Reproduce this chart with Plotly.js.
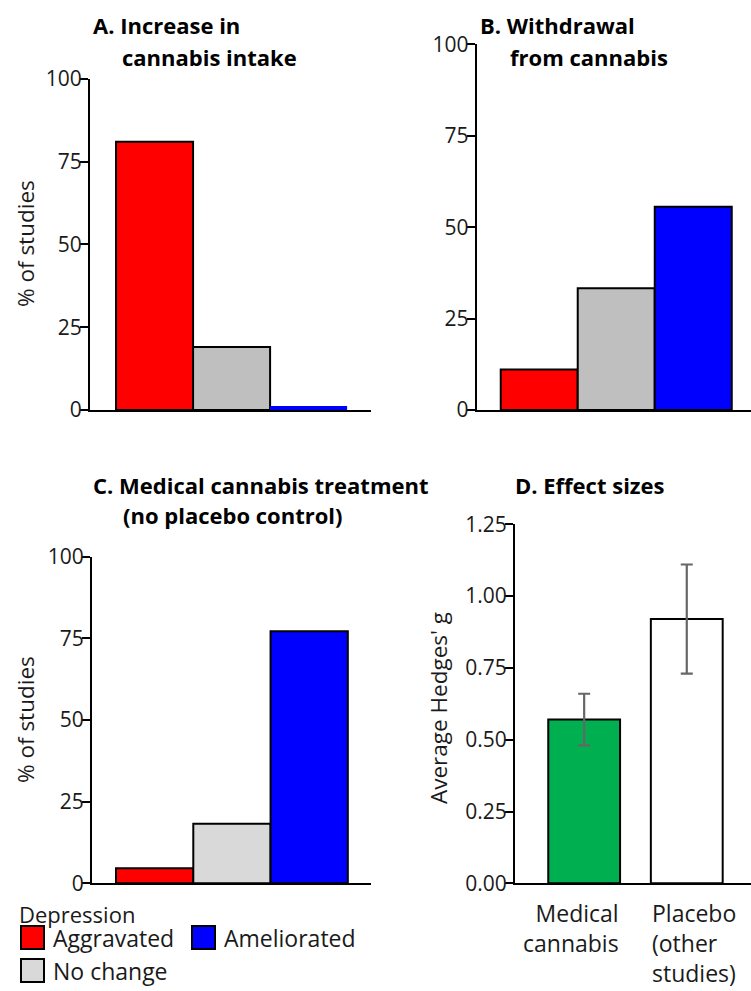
<!DOCTYPE html>
<html>
<head>
<meta charset="utf-8">
<script src="https://cdn.plot.ly/plotly-3.0.1.min.js"></script>
<style>html,body{margin:0;padding:0;background:#fff;}#chart{width:751px;height:991px;}</style>
</head>
<body>
<div id="chart"></div>
<script>
// ---- data ----
var outcomeCategories = ["Aggravated", "No change", "Ameliorated"];
var intakeValues = [81, 19, 1.2];
var withdrawalValues = [11.1, 33.3, 55.6];
var medicalValues = [4.6, 18.2, 77.2];
var effectCategories = ["Medical<br>cannabis", "Placebo<br>(other<br>studies)"];
var effectValues = [0.57, 0.92];
var effectErrPlus = [0.09, 0.19];
var effectErrMinus = [0.09, 0.19];
var pctTicks = [0, 25, 50, 75, 100];
var effTicks = [0, 0.25, 0.5, 0.75, 1.0, 1.25];
var panelTitles = [
  ["A. Increase in", "cannabis intake"],
  ["B. Withdrawal", "from cannabis"],
  ["C. Medical cannabis treatment", "(no placebo control)"],
  ["D. Effect sizes"]
];
var legendTitle = "Depression";
var legendLabels = ["Aggravated", "Ameliorated", "No change"];

// ---- styling ----
var W = 751, H = 991;
var FONT = "Open Sans, sans-serif";
var TXT = "#1a1a1a";
function px(x){ return x / W; }
function py(y){ return 1 - y / H; }
var colorsAB = ["#ff0000", "#bfbfbf", "#0000ff"];
var colorsC = ["#ff0000", "#d9d9d9", "#0000ff"];
var idx = outcomeCategories.map(function(_, i){ return i; });

var traces = [
  {type: "bar", x: idx, y: intakeValues, width: 1, xaxis: "x", yaxis: "y",
   marker: {color: colorsAB, line: {color: "#000", width: [2, 2, 0]}},
   hovertext: outcomeCategories, textposition: "none", showlegend: false},
  {type: "bar", x: idx, y: withdrawalValues, width: 1, xaxis: "x2", yaxis: "y2",
   marker: {color: colorsAB, line: {color: "#000", width: 2}},
   hovertext: outcomeCategories, textposition: "none", showlegend: false},
  {type: "bar", x: idx, y: medicalValues, width: 1, xaxis: "x3", yaxis: "y3",
   marker: {color: colorsC, line: {color: "#000", width: 2}},
   hovertext: outcomeCategories, textposition: "none", showlegend: false},
  {type: "bar", x: [0, 1], y: effectValues, width: 0.7, xaxis: "x4", yaxis: "y4",
   marker: {color: ["#00b050", "#ffffff"], line: {color: "#000", width: 2}},
   error_y: {type: "data", array: effectErrPlus, arrayminus: effectErrMinus, symmetric: false,
             color: "#666666", thickness: 2.2, width: 6},
   showlegend: false, textposition: "none"}
];

function xax(dom, rng, anchor){
  return {domain: dom, range: rng, anchor: anchor, showgrid: false, zeroline: false, showline: true,
          linecolor: "#000", linewidth: 2, ticks: "", showticklabels: false, fixedrange: true};
}
function yax(dom, rng, vals, fmt, anchor){
  return {domain: dom, range: rng, showgrid: false, zeroline: false, showline: true,
          linecolor: "#000", linewidth: 2, ticks: "outside", ticklen: 8, tickwidth: 2,
          tickcolor: "#000", tickvals: vals, tickformat: fmt, anchor: anchor,
          ticklabelstandoff: -6,
          tickfont: {family: FONT, size: 21, color: TXT}, fixedrange: true};
}

var layout = {
  width: W, height: H, autosize: false,
  margin: {l: 0, r: 0, t: 0, b: 0, pad: 0},
  paper_bgcolor: "#fff", plot_bgcolor: "rgba(0,0,0,0)",
  showlegend: false, bargap: 0,
  font: {family: FONT, color: TXT},
  xaxis: xax([px(90), px(371)], [-0.838, 2.81], "y"),
  yaxis: yax([py(410), py(78.7)], [0, 100], pctTicks, "d", "x"),
  xaxis2: xax([px(476.7), 1], [-0.812, 2.75], "y2"),
  yaxis2: yax([py(410), py(44.3)], [0, 100], pctTicks, "d", "x2"),
  xaxis3: xax([px(92), px(371)], [-0.811, 2.80], "y3"),
  yaxis3: yax([py(883.3), py(556.7)], [0, 100], pctTicks, "d", "x3"),
  xaxis4: xax([px(515), 1], [-0.674, 1.626], "y4"),
  yaxis4: yax([py(883.3), py(524.3)], [0, 1.25], effTicks, ".2f", "x4"),
  annotations: [],
  shapes: []
};

function ann(text, x, y, opts){
  var a = {text: text, x: x, y: y, xref: "paper", yref: "paper", showarrow: false,
           xanchor: "left", yanchor: "middle", borderpad: 0,
           font: {family: FONT, size: 23, color: TXT}};
  for (var k in opts) a[k] = opts[k];
  return a;
}

// panel titles (bold), positioned per line
var titlePos = [
  [[92, 25], [121, 57]],
  [[479, 25], [509, 57]],
  [[92, 485], [122, 515]],
  [[514, 485]]
];
panelTitles.forEach(function(lines, p){
  lines.forEach(function(line, i){
    layout.annotations.push(ann("<b>" + line + "</b>", px(titlePos[p][i][0]), py(titlePos[p][i][1]),
      {font: {family: FONT, size: 22, color: "#000"}}));
  });
});

// y axis titles
layout.annotations.push(ann("% of studies", px(25), py(244), {textangle: -90, xanchor: "center", font: {family: FONT, size: 22.5, color: TXT}}));
layout.annotations.push(ann("% of studies", px(25), py(720), {textangle: -90, xanchor: "center", font: {family: FONT, size: 22.5, color: TXT}}));
layout.annotations.push(ann("Average Hedges' g", px(438), py(708), {textangle: -90, xanchor: "center", font: {family: FONT, size: 22.5, color: TXT}}));

// D category labels
layout.annotations.push({text: effectCategories[0], x: 0.35, y: py(896), xref: "x4", yref: "paper",
  yanchor: "top", xanchor: "right", align: "right", showarrow: false, borderpad: 0,
  font: {family: FONT, size: 23, color: TXT}});
layout.annotations.push({text: effectCategories[1], x: 0.65, y: py(896), xref: "x4", yref: "paper",
  yanchor: "top", xanchor: "left", align: "left", showarrow: false, borderpad: 0,
  font: {family: FONT, size: 23, color: TXT}});

// legend
layout.annotations.push(ann(legendTitle, px(18), py(914), {font: {family: FONT, size: 22, color: TXT}}));
var legColors = ["#ff0000", "#0000ff", "#d9d9d9"];
var legPos = [[21, 926], [192, 926], [21, 959]];
legendLabels.forEach(function(lab, i){
  var x0 = legPos[i][0], y0 = legPos[i][1];
  layout.shapes.push({type: "rect", xref: "paper", yref: "paper",
    x0: px(x0), x1: px(x0 + 23), y0: py(y0), y1: py(y0 + 23),
    fillcolor: legColors[i], line: {color: "#000", width: 2}});
  layout.annotations.push(ann(lab, px(x0 + 31), py(y0 + 12)));
});

Plotly.newPlot("chart", traces, layout, {displayModeBar: false, staticPlot: true});
</script>
</body>
</html>
